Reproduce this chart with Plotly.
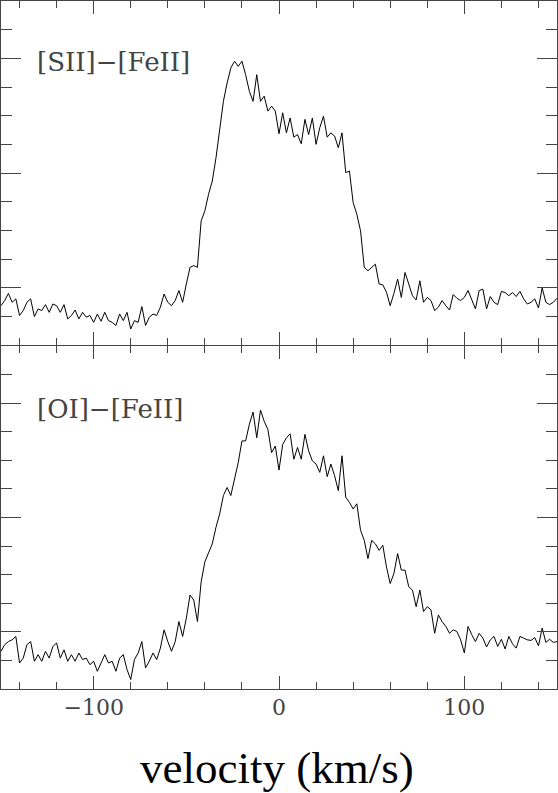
import plotly.graph_objects as go

# velocity grid (km/s)
velocity = list(range(-150, 152, 2))

# [SII]-[FeII] difference profile (normalised flux)
flux_sii = [
    -0.063, -0.045, -0.020, -0.051, -0.039, -0.097, -0.080, -0.051, -0.039, -0.101,
    -0.074, -0.080, -0.059, -0.086, -0.057, -0.063, -0.086, -0.059, -0.109, -0.097,
    -0.078, -0.109, -0.086, -0.103, -0.097, -0.121, -0.092, -0.117, -0.086, -0.115,
    -0.121, -0.132, -0.092, -0.115, -0.086, -0.144, -0.115, -0.121, -0.066, -0.132,
    -0.103, -0.092, -0.097, -0.068, -0.022, -0.051, -0.063, -0.045, -0.010, -0.051,
    0.013, 0.071, 0.077, 0.071, 0.233, 0.268, 0.326, 0.372, 0.453, 0.546,
    0.650, 0.714, 0.766, 0.790, 0.772, 0.790, 0.743, 0.685, 0.650, 0.743,
    0.650, 0.668, 0.616, 0.633, 0.616, 0.537,
    0.610, 0.540, 0.592, 0.525, 0.534, 0.502, 0.587, 0.534, 0.592, 0.500,
    0.558, 0.598, 0.525, 0.540, 0.529, 0.488, 0.540, 0.401, 0.407, 0.297,
    0.256, 0.198, 0.071, 0.059, 0.071, 0.082, 0.013, 0.010, -0.016, -0.063,
    -0.020, 0.030, -0.034, 0.053, 0.013, -0.028, -0.043, 0.024, -0.051, -0.034,
    -0.045, -0.080, -0.068, -0.045, -0.063, -0.078, -0.024, -0.037, -0.045, -0.034,
    -0.010, -0.043, -0.074, -0.010, -0.005, -0.074, -0.031, -0.051, -0.059, -0.013,
    -0.017, -0.028, -0.017, -0.031, -0.013, -0.039, -0.057, -0.051, -0.039, -0.071,
    -0.001, -0.051, -0.059, -0.051, -0.037,
]

# [OI]-[FeII] difference profile (normalised flux)
flux_oi = [
    -0.068, -0.045, -0.034, -0.028, -0.016, -0.109, -0.092, -0.045, -0.034, -0.103,
    -0.080, -0.103, -0.068, -0.092, -0.051, -0.039, -0.092, -0.063, -0.103, -0.080,
    -0.103, -0.074, -0.097, -0.092, -0.115, -0.103, -0.138, -0.109, -0.080, -0.109,
    -0.103, -0.138, -0.092, -0.080, -0.132, -0.167, -0.097, -0.074, -0.034, -0.126,
    -0.103, -0.074, -0.097, -0.057, 0.007, -0.034, -0.068, -0.034, 0.036, -0.016,
    0.048, 0.129, 0.111, 0.036, 0.175, 0.245, 0.279, 0.308, 0.366, 0.413,
    0.477, 0.505, 0.477, 0.534, 0.592, 0.668, 0.668, 0.726, 0.769, 0.679,
    0.776, 0.737, 0.708, 0.627, 0.650, 0.566,
    0.656, 0.679, 0.693, 0.604, 0.645, 0.604, 0.691, 0.633, 0.598, 0.587,
    0.558, 0.616, 0.543, 0.587, 0.546, 0.494, 0.616, 0.471, 0.453, 0.430,
    0.448, 0.355, 0.320, 0.256, 0.320, 0.308, 0.285, 0.303, 0.227, 0.169,
    0.204, 0.274, 0.216, 0.216, 0.158, 0.146, 0.088, 0.146, 0.071, 0.088,
    0.077, -0.005, 0.059, 0.036, 0.019, -0.005, 0.007, 0.001, -0.028, -0.074,
    0.019, -0.010, -0.034, -0.005, -0.022, -0.053, -0.028, -0.016, -0.051, -0.026,
    -0.060, -0.016, -0.042, -0.057, -0.016, -0.022, -0.028, -0.030, -0.020, -0.049,
    0.013, -0.037, -0.026, -0.037, -0.034,
]

panel_labels = ["[SII]\u2212[FeII]", "[OI]\u2212[FeII]"]
x_tickvals = [-100, 0, 100]
x_title = "velocity (km/s)"

FRAME = "#444444"
SERIF = "DejaVu Serif, Liberation Serif, serif"

fig = go.Figure()
fig.add_trace(go.Scatter(x=velocity, y=flux_sii, mode="lines",
                         line=dict(color="black", width=1), xaxis="x", yaxis="y",
                         showlegend=False, hoverinfo="skip"))
fig.add_trace(go.Scatter(x=velocity, y=flux_oi, mode="lines",
                         line=dict(color="black", width=1), xaxis="x2", yaxis="y2",
                         showlegend=False, hoverinfo="skip"))

def xax(show_labels):
    return dict(range=[-150, 150], showline=True, linecolor=FRAME, linewidth=1.3,
                mirror="ticks", ticks="inside", ticklen=13, tickwidth=1.2, tickcolor=FRAME,
                tickmode="array", tickvals=x_tickvals, showgrid=False, zeroline=False,
                showticklabels=show_labels, ticklabelstandoff=-2,
                tickfont=dict(family=SERIF, size=22, color="#444444"),
                minor=dict(dtick=20, tick0=0, ticks="inside", ticklen=6.5,
                           tickwidth=1.2, tickcolor=FRAME, showgrid=False))

def yax(domain):
    return dict(range=[-0.2, 1.0], domain=domain, showline=True, linecolor=FRAME,
                linewidth=1.3, mirror="ticks", ticks="inside", ticklen=20, tickwidth=1.2,
                tickcolor=FRAME, tick0=0, dtick=0.4, showgrid=False, zeroline=False,
                showticklabels=False,
                minor=dict(dtick=0.1, tick0=0, ticks="inside", ticklen=11,
                           tickwidth=1.2, tickcolor=FRAME, showgrid=False))

fig.update_layout(
    width=558, height=793,
    margin=dict(l=1, r=1, t=1, b=104),
    paper_bgcolor="white", plot_bgcolor="white",
    xaxis=dict(**xax(False), anchor="y"),
    yaxis=dict(**yax([0.5, 1.0]), anchor="x"),
    xaxis2=dict(**xax(True), anchor="y2"),
    yaxis2=dict(**yax([0.0, 0.4985]), anchor="x2"),
    annotations=[
        dict(text=panel_labels[0], xref="paper", yref="paper", x=0.061, y=0.911,
             xanchor="left", yanchor="middle", showarrow=False,
             font=dict(family=SERIF, size=26, color="#444444")),
        dict(text=panel_labels[1], xref="paper", yref="paper", x=0.061, y=0.407,
             xanchor="left", yanchor="middle", showarrow=False,
             font=dict(family=SERIF, size=26, color="#444444")),
        dict(text=x_title, xref="paper", yref="paper", x=0.496, y=-0.1148,
             xanchor="center", yanchor="middle", showarrow=False,
             font=dict(family="Liberation Serif, Times New Roman, serif", size=45,
                       color="black")),
    ],
)

fig.write_html(
    "out.html",
    config={"displayModeBar": False},
    post_script="document.body.style.margin='0';document.body.style.overflow='hidden';",
)
